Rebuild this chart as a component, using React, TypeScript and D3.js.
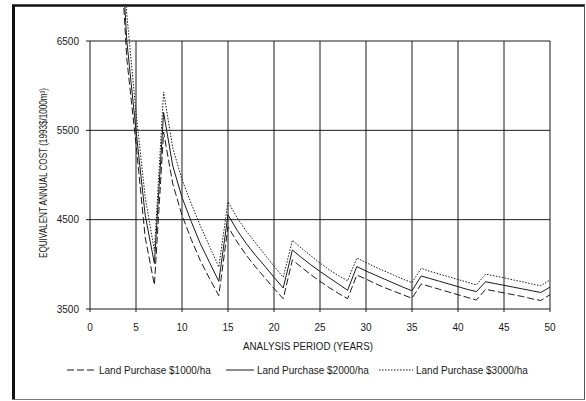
import React from "react";
import * as d3 from "d3";

const years = [3, 4, 5, 6, 7, 8, 9, 10, 11, 12, 13, 14, 15, 16, 17, 18, 19, 20, 21, 22, 23, 24, 25, 26, 27, 28, 29, 30, 31, 32, 33, 34, 35, 36, 37, 38, 39, 40, 41, 42, 43, 44, 45, 46, 47, 48, 49, 50];

const land1000 = [8100, 6300, 5350, 4300, 3770, 5480, 4900, 4550, 4280, 4040, 3840, 3650, 4420, 4250, 4100, 3970, 3850, 3730, 3615, 4050, 3965, 3885, 3810, 3740, 3675, 3615, 3880, 3835, 3785, 3740, 3700, 3660, 3620, 3780, 3750, 3720, 3690, 3660, 3630, 3600, 3720, 3700, 3680, 3660, 3640, 3615, 3595, 3660];

const land2000 = [8300, 6500, 5500, 4550, 4010, 5700, 5100, 4750, 4480, 4230, 4020, 3810, 4555, 4380, 4230, 4100, 3980, 3855, 3735, 4160, 4075, 3995, 3920, 3850, 3780, 3710, 3975, 3925, 3880, 3835, 3790, 3745, 3705, 3870, 3840, 3810, 3780, 3750, 3720, 3695, 3805, 3785, 3765, 3745, 3725, 3705, 3685, 3745];

const land3000 = [8700, 6800, 5700, 4750, 4150, 5930, 5300, 4950, 4680, 4430, 4200, 3970, 4700, 4520, 4370, 4240, 4110, 3980, 3855, 4270, 4180, 4095, 4015, 3940, 3875, 3815, 4070, 4020, 3970, 3925, 3880, 3835, 3795, 3955, 3920, 3890, 3860, 3830, 3800, 3770, 3890, 3870, 3850, 3825, 3805, 3780, 3760, 3825];

const xTicks = [0, 5, 10, 15, 20, 25, 30, 35, 40, 45, 50];
const yTicks = [3500, 4500, 5500, 6500];

const seriesNames = ["Land Purchase $1000/ha", "Land Purchase $2000/ha", "Land Purchase $3000/ha"];
const seriesValues = [land1000, land2000, land3000];
const seriesDash = ["7,3", null, "1.5,1.5"];

const xTitle = "ANALYSIS PERIOD (YEARS)";
const yTitle = "EQUIVALENT ANNUAL COST (1993$/1000m³)";

export default function App() {
  const W = 586;
  const H = 401;
  const x = d3.scaleLinear().domain([0, 50]).range([90, 550]);
  const y = d3.scaleLinear().domain([3500, 6500]).range([309, 41]);
  const font = "'Liberation Sans', Arial, sans-serif";
  const ink = "#1a1a1a";

  const line = d3
    .line<number>()
    .x((_, i) => x(years[i]))
    .y((d) => y(d));

  const legendItems = [
    { sx: 67, ex: 96, tx: 99 },
    { sx: 226, ex: 254, tx: 257 },
    { sx: 379, ex: 413, tx: 416 },
  ];

  return (
    <svg
      width={W}
      height={H}
      style={{ position: "absolute", left: 0, top: 0, background: "#fff" }}
      fontFamily={font}
    >
      <defs>
        <clipPath id="chartClip">
          <rect x={15} y={7} width={569} height={391} />
        </clipPath>
      </defs>
      <rect x={0} y={0} width={W} height={H} fill="#fff" />

      {/* outer frame */}
      <line x1={13.5} y1={5} x2={13.5} y2={400} stroke="#111" strokeWidth={3} />
      <line x1={12} y1={5.5} x2={585} y2={5.5} stroke="#111" strokeWidth={2.5} />
      <line x1={584.5} y1={5} x2={584.5} y2={400} stroke="#555" strokeWidth={1} />
      <line x1={12} y1={399.5} x2={585} y2={399.5} stroke="#777" strokeWidth={1} />

      {/* horizontal grid */}
      {yTicks.map((t) => (
        <line key={"h" + t} x1={x(0) - 4} x2={x(50)} y1={y(t)} y2={y(t)} stroke={ink} strokeWidth={1} />
      ))}
      {/* vertical grid */}
      {xTicks.map((t) => (
        <line key={"v" + t} x1={x(t)} x2={x(t)} y1={y(6500)} y2={y(3500) + 3} stroke={ink} strokeWidth={1} />
      ))}

      {/* y tick labels */}
      {yTicks.map((t) => (
        <text key={"yl" + t} x={79} y={y(t) + 3.5} fontSize={10} textAnchor="end" fill={ink}>
          {t}
        </text>
      ))}
      {/* x tick labels */}
      {xTicks.map((t) => (
        <text key={"xl" + t} x={x(t)} y={331} fontSize={10} textAnchor="middle" fill={ink}>
          {t}
        </text>
      ))}

      {/* axis titles */}
      <text x={308} y={350} fontSize={10} textAnchor="middle" fill={ink} textLength={130} lengthAdjust="spacingAndGlyphs">
        {xTitle}
      </text>
      <text
        transform={`translate(47,173) rotate(-90)`}
        fontSize={10}
        textAnchor="middle"
        fill={ink}
        textLength={170}
        lengthAdjust="spacingAndGlyphs"
      >
        {yTitle}
      </text>

      {/* series */}
      <g clipPath="url(#chartClip)">
        {seriesValues.map((vals, i) => (
          <path
            key={"s" + i}
            d={line(vals) || ""}
            fill="none"
            stroke={ink}
            strokeWidth={1}
            strokeDasharray={seriesDash[i] || undefined}
          />
        ))}
      </g>

      {/* legend */}
      {legendItems.map((it, i) => (
        <g key={"lg" + i}>
          <line
            x1={it.sx}
            x2={it.ex}
            y1={370}
            y2={370}
            stroke={ink}
            strokeWidth={1}
            strokeDasharray={seriesDash[i] || undefined}
          />
          <text x={it.tx} y={373.5} fontSize={10} fill={ink}>
            {seriesNames[i]}
          </text>
        </g>
      ))}
    </svg>
  );
}
